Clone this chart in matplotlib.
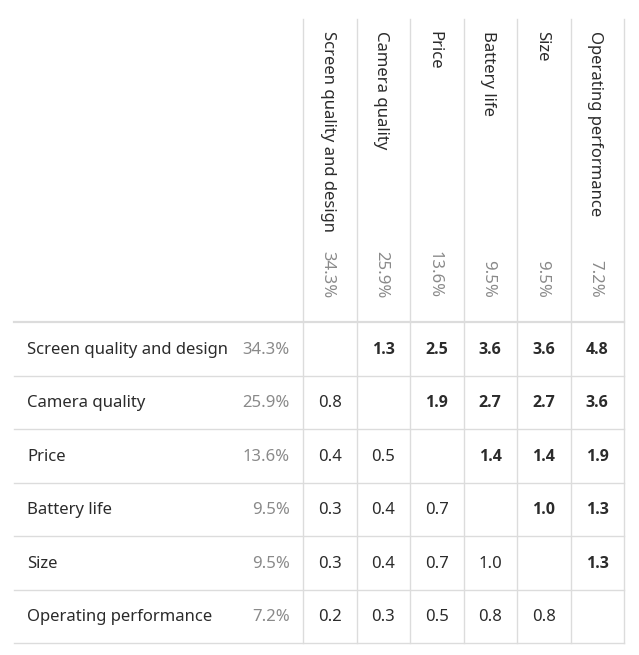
import matplotlib.pyplot as plt
import numpy as np

# == dados da tabela ==
criterios = ['Screen quality and design', 'Camera quality', 'Price',
             'Battery life', 'Size', 'Operating performance']
pesos = ['34.3%', '25.9%', '13.6%', '9.5%', '9.5%', '7.2%']

# matriz de comparação (None = diagonal vazia)
matriz = [
    [None, 1.3, 2.5, 3.6, 3.6, 4.8],
    [0.8, None, 1.9, 2.7, 2.7, 3.6],
    [0.4, 0.5, None, 1.4, 1.4, 1.9],
    [0.3, 0.4, 0.7, None, 1.0, 1.3],
    [0.3, 0.4, 0.7, 1.0, None, 1.3],
    [0.2, 0.3, 0.5, 0.8, 0.8, None],
]

# == layout em pixels ==
W, H = 639, 655
x_esq, x_col0, larg_col = 14, 303, 53.5
y_topo, y_cab, alt_lin = 19, 322, 53.5
cor_linha = '#dcdcdc'
cor_texto = '#2b2b2b'
cor_cinza = '#8a8a8a'
fonte = 'Noto Sans'
fonte_negrito = 'Open Sans'
tam = 12.0

fig = plt.figure(figsize=(W / 100, H / 100), dpi=100)
ax = fig.add_axes([0, 0, 1, 1])
ax.set_xlim(0, W)
ax.set_ylim(H, 0)
ax.axis('off')

n = len(criterios)
x_fim = x_col0 + n * larg_col
y_fim = y_cab + n * alt_lin

# linhas verticais
for j in range(n + 1):
    x = x_col0 + j * larg_col
    ax.plot([x, x], [y_topo, y_fim], color=cor_linha, lw=1)

# linhas horizontais
ax.plot([x_esq, x_fim], [y_cab, y_cab], color=cor_linha, lw=1.6)
for i in range(1, n + 1):
    y = y_cab + i * alt_lin
    ax.plot([x_esq, x_fim], [y, y], color=cor_linha, lw=1)

# cabeçalho rotacionado
for j, (nome, p) in enumerate(zip(criterios, pesos)):
    xc = x_col0 + (j + 0.5) * larg_col - 2
    ax.text(xc, 31, nome, rotation=270, ha='center', va='top',
            fontsize=tam, color=cor_texto, family=fonte)
    ax.text(xc, 298, p, rotation=270, ha='center', va='bottom',
            fontsize=tam, color=cor_cinza, family=fonte)

# linhas da tabela
for i, (nome, p) in enumerate(zip(criterios, pesos)):
    yc = y_cab + (i + 0.5) * alt_lin + 1
    ax.text(27, yc, nome, ha='left', va='center', fontsize=tam,
            color=cor_texto, family=fonte)
    ax.text(290, yc, p, ha='right', va='center', fontsize=tam,
            color=cor_cinza, family=fonte)
    for j, v in enumerate(matriz[i]):
        if v is None:
            continue
        xc = x_col0 + (j + 0.5) * larg_col
        if j > i:
            ax.text(xc, yc, f'{v:.1f}', ha='center', va='center',
                    fontsize=tam - 0.5, color=cor_texto,
                    family=fonte_negrito, fontweight='bold')
        else:
            ax.text(xc, yc, f'{v:.1f}', ha='center', va='center',
                    fontsize=tam, color=cor_texto, family=fonte)

fig.savefig('out.png', dpi=100, facecolor='white')
